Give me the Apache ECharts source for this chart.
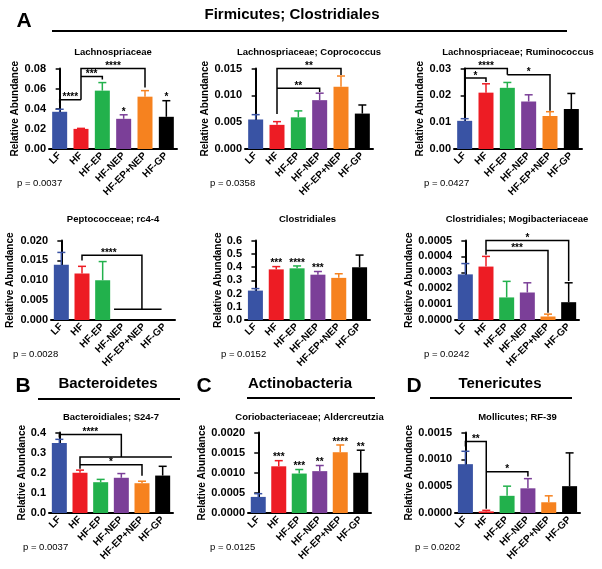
<!DOCTYPE html>
<html>
<head>
<meta charset="utf-8">
<script src="https://cdn.jsdelivr.net/npm/echarts@6/dist/echarts.min.js"></script>
<style>
html,body{margin:0;padding:0;background:#fff;}
#chart{width:602px;height:569px;}
</style>
</head>
<body>
<div id="chart"></div>
<script>
// ---------- data ----------
const categories = ['LF', 'HF', 'HF-EP', 'HF-NEP', 'HF-EP+NEP', 'HF-GP'];

const lachnoMean = [0.037, 0.020, 0.058, 0.030, 0.052, 0.032];
const lachnoErr  = [0.0395, 0.0205, 0.066, 0.034, 0.058, 0.048];
const lachnoStars = ['', '', '', '*', '', '*'];
const lachnoBrackets = [
  [[0, 0.046], [0, 0.049], [1, 0.049]],
  [[1, 0.049], [1, 0.080], [4, 0.080], [4, 0.061]],
  [[1, 0.072], [2, 0.072], [2, 0.069]]
];
const lachnoMarks = [[0.5, 0.049, '****'], [1.5, 0.072, '***'], [2.5, 0.080, '****']];

const coproMean = [0.0055, 0.0045, 0.0059, 0.0091, 0.0116, 0.0066];
const coproErr  = [0.0064, 0.0051, 0.0071, 0.0104, 0.0136, 0.0082];
const coproStars = ['', '', '', '', '', ''];
const coproBrackets = [
  [[1, 0.0065], [1, 0.015], [4, 0.015], [4, 0.0138]],
  [[1, 0.0113], [3, 0.0113], [3, 0.0106]]
];
const coproMarks = [[2.5, 0.015, '**'], [2, 0.0113, '**']];

const ruminoMean = [0.0105, 0.0210, 0.0228, 0.0177, 0.0123, 0.0149];
const ruminoErr  = [0.0113, 0.0243, 0.0248, 0.0202, 0.0139, 0.0207];
const ruminoStars = ['', '', '', '', '', ''];
const ruminoBrackets = [
  [[0, 0.0130], [0, 0.030], [2, 0.030], [2, 0.0277]],
  [[0, 0.0265], [1, 0.0265], [1, 0.0250]],
  [[2, 0.0277], [4, 0.0277], [4, 0.0143]]
];
const ruminoMarks = [[1, 0.030, '****'], [0.5, 0.0265, '*'], [3, 0.0277, '*']];

const peptoMean = [0.0139, 0.0117, 0.0100, 0, 0, 0];
const peptoErr  = [0.0170, 0.0135, 0.0147, 0, 0, 0];
const peptoStars = ['', '', '', '', '', ''];
const peptoBrackets = [
  [[1, 0.0150], [1, 0.0163], [3.9, 0.0163], [3.9, 0.0027]],
  [[2.55, 0.0027], [4.85, 0.0027]]
];
const peptoMarks = [[2.3, 0.0163, '****']];

const clostrMean = [0.222, 0.382, 0.390, 0.342, 0.318, 0.398];
const clostrErr  = [0.237, 0.403, 0.408, 0.366, 0.349, 0.490];
const clostrStars = ['', '***', '****', '***', '', ''];
const clostrBrackets = [];
const clostrMarks = [];

const mogiMean = [0.000287, 0.000336, 0.000142, 0.000173, 0.000022, 0.000112];
const mogiErr  = [0.000355, 0.000400, 0.000243, 0.000234, 0.000037, 0.000234];
const mogiStars = ['', '', '', '', '', ''];
const mogiBrackets = [
  [[1, 0.000410], [1, 0.0005], [5, 0.0005], [5, 0.000245]],
  [[1, 0.000437], [4, 0.000437], [4, 0.000045]]
];
const mogiMarks = [[3, 0.0005, '*'], [2.5, 0.000437, '***']];

const s247Mean = [0.348, 0.200, 0.153, 0.175, 0.148, 0.186];
const s247Err  = [0.366, 0.213, 0.167, 0.196, 0.158, 0.232];
const s247Stars = ['', '', '', '', '', ''];
const s247Brackets = [
  [[0, 0.375], [0, 0.39], [3, 0.39], [3, 0.278]],
  [[1, 0.22], [1, 0.278], [5.45, 0.278]],
  [[1, 0.24], [4, 0.24], [4, 0.185]]
];
const s247Marks = [[1.5, 0.39, '****'], [2.5, 0.24, '*']];

const alderMean = [0.00040, 0.00116, 0.00098, 0.00104, 0.00151, 0.00100];
const alderErr  = [0.00048, 0.00130, 0.00108, 0.00118, 0.00169, 0.00156];
const alderStars = ['', '***', '***', '**', '****', '**'];
const alderBrackets = [];
const alderMarks = [];

const rfMean = [0.00091, 0.00003, 0.00032, 0.00046, 0.00020, 0.00050];
const rfErr  = [0.00115, 0.00005, 0.00050, 0.00064, 0.00032, 0.00112];
const rfStars = ['', '', '', '', '', ''];
const rfBrackets = [
  [[0, 0.00124], [0, 0.00133], [1, 0.00133], [1, 0.00008]],
  [[1, 0.00077], [3, 0.00077], [3, 0.00068]]
];
const rfMarks = [[0.5, 0.00133, '**'], [2, 0.00077, '*']];

const panelTitles = ['Lachnospriaceae', 'Lachnospriaceae; Coprococcus', 'Lachnospriaceae; Ruminococcus',
  'Peptococceae; rc4-4', 'Clostridiales', 'Clostridiales; Mogibacteriaceae',
  'Bacteroidiales; S24-7', 'Coriobacteriaceae; Aldercreutzia', 'Mollicutes; RF-39'];
const pValues = ['p = 0.0037', 'p = 0.0358', 'p = 0.0427', 'p = 0.0028', 'p = 0.0152', 'p = 0.0242',
  'p = 0.0037', 'p = 0.0125', 'p = 0.0202'];
const yMaxes = [0.08, 0.015, 0.03, 0.020, 0.6, 0.0005, 0.4, 0.0020, 0.0015];
const ySteps = [0.02, 0.005, 0.01, 0.005, 0.1, 0.0001, 0.1, 0.0005, 0.0005];
const yDecimals = [2, 3, 2, 3, 1, 4, 1, 4, 4];

const means = [lachnoMean, coproMean, ruminoMean, peptoMean, clostrMean, mogiMean, s247Mean, alderMean, rfMean];
const errs = [lachnoErr, coproErr, ruminoErr, peptoErr, clostrErr, mogiErr, s247Err, alderErr, rfErr];
const stars = [lachnoStars, coproStars, ruminoStars, peptoStars, clostrStars, mogiStars, s247Stars, alderStars, rfStars];
const brackets = [lachnoBrackets, coproBrackets, ruminoBrackets, peptoBrackets, clostrBrackets, mogiBrackets, s247Brackets, alderBrackets, rfBrackets];
const marks = [lachnoMarks, coproMarks, ruminoMarks, peptoMarks, clostrMarks, mogiMarks, s247Marks, alderMarks, rfMarks];

// ---------- layout & style ----------
const barColors = ['#3953a4', '#ed1c24', '#22b14c', '#7b3f98', '#f6821f', '#000000'];
const FONT = '"Liberation Sans", Arial, Helvetica, sans-serif';
const layout = [
  {left: 49, top: 68.5, width: 128, height: 80.5, gap: 28, tx: 17, ty: 183, titleY: 52},
  {left: 245, top: 68.5, width: 128, height: 80.5, gap: 27, tx: 210, ty: 183, titleY: 52},
  {left: 454, top: 68.5, width: 128, height: 80.5, gap: 28, tx: 424, ty: 183, titleY: 52},
  {left: 51, top: 240.5, width: 124, height: 79.5, gap: 36, tx: 13, ty: 354, titleY: 219},
  {left: 245, top: 240.5, width: 125, height: 79.5, gap: 20, tx: 221, ty: 354, titleY: 219},
  {left: 455, top: 240.5, width: 124, height: 79.5, gap: 40, tx: 424, ty: 354, titleY: 219},
  {left: 49, top: 432.5, width: 124, height: 80.5, gap: 22, tx: 23, ty: 547, titleY: 417},
  {left: 248, top: 432.5, width: 123, height: 80.5, gap: 40, tx: 210, ty: 547, titleY: 417},
  {left: 455, top: 432.5, width: 125, height: 80.5, gap: 40, tx: 415, ty: 547, titleY: 417}
];

const grids = [], xAxes = [], yAxes = [], series = [], graphics = [];

layout.forEach((L, k) => {
  grids.push({left: L.left, top: L.top, width: L.width, height: L.height, containLabel: false});
  xAxes.push({
    type: 'category', gridIndex: k, data: categories,
    axisLine: {lineStyle: {color: '#000', width: 2}},
    axisTick: {show: false},
    axisLabel: {rotate: 45, interval: 0, margin: 5, color: '#000', fontWeight: 'bold', fontSize: 10, fontFamily: FONT},
    splitLine: {show: false}
  });
  xAxes.push({type: 'value', gridIndex: k, min: -0.5, max: 5.5, show: false});
  yAxes.push({
    type: 'value', gridIndex: k, min: 0, max: yMaxes[k], interval: ySteps[k],
    name: 'Relative Abundance', nameLocation: 'middle', nameGap: L.gap,
    nameTextStyle: {color: '#000', fontWeight: 'bold', fontSize: 10, fontFamily: FONT},
    axisLine: {show: true, lineStyle: {color: '#000', width: 2}},
    axisTick: {show: true, length: 4, lineStyle: {color: '#000', width: 1.5}},
    axisLabel: {color: '#000', fontWeight: 'bold', fontSize: 11, fontFamily: FONT, margin: 3,
      formatter: (v) => v.toFixed(yDecimals[k])},
    splitLine: {show: false}
  });

  // bars
  series.push({
    type: 'bar', xAxisIndex: 2 * k, yAxisIndex: k, barWidth: 15, silent: true,
    data: means[k].map((v, i) => ({value: v, itemStyle: {color: barColors[i]}}))
  });
  // error bars (upper only)
  series.push({
    type: 'custom', xAxisIndex: 2 * k + 1, yAxisIndex: k, silent: true,
    data: means[k].map((v, i) => [i, v, errs[k][i]]),
    renderItem: (params, api) => {
      const i = api.value(0), m = api.value(1), t = api.value(2);
      if (!(t > m)) return null;
      const p0 = api.coord([i, m]), p1 = api.coord([i, t]);
      const c = barColors[i];
      return {type: 'group', children: [
        {type: 'line', shape: {x1: p0[0], y1: p0[1], x2: p1[0], y2: p1[1]}, style: {stroke: c, lineWidth: 1.5}},
        {type: 'line', shape: {x1: p1[0] - 4, y1: p1[1], x2: p1[0] + 4, y2: p1[1]}, style: {stroke: c, lineWidth: 1.5}}
      ]};
    }
  });
  // stars above single bars
  series.push({
    type: 'custom', xAxisIndex: 2 * k + 1, yAxisIndex: k, silent: true,
    data: errs[k].map((v, i) => [i, v]),
    renderItem: (params, api) => {
      const txt = stars[k][params.dataIndex];
      if (!txt) return null;
      const p = api.coord([api.value(0), api.value(1)]);
      return {type: 'text', style: {x: p[0], y: p[1] + 2, text: txt, align: 'center', verticalAlign: 'bottom',
        textAlign: 'center', textVerticalAlign: 'bottom', font: 'bold 10px ' + FONT, fill: '#000'}};
    }
  });
  // comparison brackets
  if (brackets[k].length) {
    series.push({
      type: 'custom', xAxisIndex: 2 * k + 1, yAxisIndex: k, silent: true,
      data: brackets[k].map(b => b[0]),
      renderItem: (params, api) => {
        const pts = brackets[k][params.dataIndex].map(p => api.coord(p));
        return {type: 'polyline', shape: {points: pts}, style: {stroke: '#000', lineWidth: 1.5, fill: null}};
      }
    });
    series.push({
      type: 'custom', xAxisIndex: 2 * k + 1, yAxisIndex: k, silent: true,
      data: marks[k].map(m => [m[0], m[1]]),
      renderItem: (params, api) => {
        const p = api.coord([api.value(0), api.value(1)]);
        return {type: 'text', style: {x: p[0], y: p[1] + 3, text: marks[k][params.dataIndex][2], align: 'center',
          verticalAlign: 'bottom', textAlign: 'center', textVerticalAlign: 'bottom', font: 'bold 10px ' + FONT, fill: '#000'}};
      }
    });
  }

  // panel title & p value
  graphics.push({type: 'text', x: L.left + L.width / 2, y: L.titleY,
    style: {text: panelTitles[k], font: 'bold 9.5px ' + FONT, fill: '#000', align: 'center', verticalAlign: 'middle',
      textAlign: 'center', textVerticalAlign: 'middle'}});
  graphics.push({type: 'text', x: L.tx, y: L.ty,
    style: {text: pValues[k], font: '9.5px ' + FONT, fill: '#000', align: 'left', verticalAlign: 'middle',
      textAlign: 'left', textVerticalAlign: 'middle'}});
});

// section headers
const headers = [
  {letter: 'A', lx: 24, ly: 21, name: 'Firmicutes; Clostridiales', nx: 292, ny: 15, x1: 52, x2: 567, lineY: 31},
  {letter: 'B', lx: 23, ly: 386, name: 'Bacteroidetes', nx: 108, ny: 384, x1: 38, x2: 180, lineY: 399},
  {letter: 'C', lx: 204, ly: 386, name: 'Actinobacteria', nx: 300, ny: 384, x1: 247, x2: 375, lineY: 398},
  {letter: 'D', lx: 414, ly: 386, name: 'Tenericutes', nx: 500, ny: 384, x1: 430, x2: 572, lineY: 398}
];
headers.forEach(h => {
  graphics.push({type: 'text', x: h.lx, y: h.ly, style: {text: h.letter, font: 'bold 21px ' + FONT, fill: '#000',
    align: 'center', verticalAlign: 'middle', textAlign: 'center', textVerticalAlign: 'middle'}});
  graphics.push({type: 'text', x: h.nx, y: h.ny, style: {text: h.name, font: 'bold 15px ' + FONT, fill: '#000',
    align: 'center', verticalAlign: 'middle', textAlign: 'center', textVerticalAlign: 'middle'}});
  graphics.push({type: 'line', shape: {x1: h.x1, y1: h.lineY, x2: h.x2, y2: h.lineY}, style: {stroke: '#000', lineWidth: 2}});
});

const chart = echarts.init(document.getElementById('chart'), null, {renderer: 'canvas'});
chart.setOption({
  animation: false,
  backgroundColor: '#fff',
  grid: grids, xAxis: xAxes, yAxis: yAxes, series: series,
  graphic: {elements: graphics}
});
</script>
</body>
</html>
